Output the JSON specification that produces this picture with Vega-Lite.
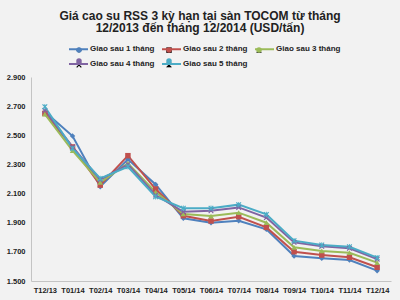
{
  "$schema": "https://vega.github.io/schema/vega-lite/v6.json",
  "width": 360,
  "height": 204,
  "autosize": "none",
  "padding": {"left": 31, "top": 77, "right": 9, "bottom": 19},
  "background": "#f2f2f2",
  "config": {
    "view": {"stroke": null},
    "font": "Liberation Sans",
    "locale": {"number": {"decimal": ",", "thousands": ".", "grouping": [3], "currency": ["", ""]}}
  },
  "title": {
    "text": ["Giá cao su RSS 3 kỳ hạn tại sàn TOCOM từ tháng", "12/2013 đến tháng 12/2014 (USD/tấn)"],
    "font": "Liberation Sans",
    "fontSize": 12,
    "fontWeight": "bold",
    "color": "#222222",
    "anchor": "middle",
    "dx": -11,
    "lineHeight": 12,
    "offset": 4
  },
  "data": {
    "values": [
      {"thang": "T12/13", "ky": "Giao sau 1 tháng", "gia": 2661},
      {"thang": "T01/14", "ky": "Giao sau 1 tháng", "gia": 2495},
      {"thang": "T02/14", "ky": "Giao sau 1 tháng", "gia": 2147},
      {"thang": "T03/14", "ky": "Giao sau 1 tháng", "gia": 2335},
      {"thang": "T04/14", "ky": "Giao sau 1 tháng", "gia": 2163},
      {"thang": "T05/14", "ky": "Giao sau 1 tháng", "gia": 1930},
      {"thang": "T06/14", "ky": "Giao sau 1 tháng", "gia": 1900},
      {"thang": "T07/14", "ky": "Giao sau 1 tháng", "gia": 1914},
      {"thang": "T08/14", "ky": "Giao sau 1 tháng", "gia": 1855},
      {"thang": "T09/14", "ky": "Giao sau 1 tháng", "gia": 1671},
      {"thang": "T10/14", "ky": "Giao sau 1 tháng", "gia": 1656},
      {"thang": "T11/14", "ky": "Giao sau 1 tháng", "gia": 1644},
      {"thang": "T12/14", "ky": "Giao sau 1 tháng", "gia": 1571},
      {"thang": "T12/13", "ky": "Giao sau 2 tháng", "gia": 2650},
      {"thang": "T01/14", "ky": "Giao sau 2 tháng", "gia": 2420},
      {"thang": "T02/14", "ky": "Giao sau 2 tháng", "gia": 2158},
      {"thang": "T03/14", "ky": "Giao sau 2 tháng", "gia": 2360},
      {"thang": "T04/14", "ky": "Giao sau 2 tháng", "gia": 2131},
      {"thang": "T05/14", "ky": "Giao sau 2 tháng", "gia": 1948},
      {"thang": "T06/14", "ky": "Giao sau 2 tháng", "gia": 1912},
      {"thang": "T07/14", "ky": "Giao sau 2 tháng", "gia": 1941},
      {"thang": "T08/14", "ky": "Giao sau 2 tháng", "gia": 1868},
      {"thang": "T09/14", "ky": "Giao sau 2 tháng", "gia": 1701},
      {"thang": "T10/14", "ky": "Giao sau 2 tháng", "gia": 1678},
      {"thang": "T11/14", "ky": "Giao sau 2 tháng", "gia": 1663},
      {"thang": "T12/14", "ky": "Giao sau 2 tháng", "gia": 1594},
      {"thang": "T12/13", "ky": "Giao sau 3 tháng", "gia": 2645},
      {"thang": "T01/14", "ky": "Giao sau 3 tháng", "gia": 2394},
      {"thang": "T02/14", "ky": "Giao sau 3 tháng", "gia": 2177},
      {"thang": "T03/14", "ky": "Giao sau 3 tháng", "gia": 2307},
      {"thang": "T04/14", "ky": "Giao sau 3 tháng", "gia": 2110},
      {"thang": "T05/14", "ky": "Giao sau 3 tháng", "gia": 1960},
      {"thang": "T06/14", "ky": "Giao sau 3 tháng", "gia": 1946},
      {"thang": "T07/14", "ky": "Giao sau 3 tháng", "gia": 1969},
      {"thang": "T08/14", "ky": "Giao sau 3 tháng", "gia": 1900},
      {"thang": "T09/14", "ky": "Giao sau 3 tháng", "gia": 1731},
      {"thang": "T10/14", "ky": "Giao sau 3 tháng", "gia": 1706},
      {"thang": "T11/14", "ky": "Giao sau 3 tháng", "gia": 1694},
      {"thang": "T12/14", "ky": "Giao sau 3 tháng", "gia": 1626},
      {"thang": "T12/13", "ky": "Giao sau 4 tháng", "gia": 2670},
      {"thang": "T01/14", "ky": "Giao sau 4 tháng", "gia": 2420},
      {"thang": "T02/14", "ky": "Giao sau 4 tháng", "gia": 2195},
      {"thang": "T03/14", "ky": "Giao sau 4 tháng", "gia": 2300},
      {"thang": "T04/14", "ky": "Giao sau 4 tháng", "gia": 2090},
      {"thang": "T05/14", "ky": "Giao sau 4 tháng", "gia": 1975},
      {"thang": "T06/14", "ky": "Giao sau 4 tháng", "gia": 1982},
      {"thang": "T07/14", "ky": "Giao sau 4 tháng", "gia": 2005},
      {"thang": "T08/14", "ky": "Giao sau 4 tháng", "gia": 1935},
      {"thang": "T09/14", "ky": "Giao sau 4 tháng", "gia": 1765},
      {"thang": "T10/14", "ky": "Giao sau 4 tháng", "gia": 1738},
      {"thang": "T11/14", "ky": "Giao sau 4 tháng", "gia": 1725},
      {"thang": "T12/14", "ky": "Giao sau 4 tháng", "gia": 1650},
      {"thang": "T12/13", "ky": "Giao sau 5 tháng", "gia": 2696},
      {"thang": "T01/14", "ky": "Giao sau 5 tháng", "gia": 2410},
      {"thang": "T02/14", "ky": "Giao sau 5 tháng", "gia": 2204},
      {"thang": "T03/14", "ky": "Giao sau 5 tháng", "gia": 2284},
      {"thang": "T04/14", "ky": "Giao sau 5 tháng", "gia": 2078},
      {"thang": "T05/14", "ky": "Giao sau 5 tháng", "gia": 1999},
      {"thang": "T06/14", "ky": "Giao sau 5 tháng", "gia": 1999},
      {"thang": "T07/14", "ky": "Giao sau 5 tháng", "gia": 2024},
      {"thang": "T08/14", "ky": "Giao sau 5 tháng", "gia": 1957},
      {"thang": "T09/14", "ky": "Giao sau 5 tháng", "gia": 1777},
      {"thang": "T10/14", "ky": "Giao sau 5 tháng", "gia": 1747},
      {"thang": "T11/14", "ky": "Giao sau 5 tháng", "gia": 1735},
      {"thang": "T12/14", "ky": "Giao sau 5 tháng", "gia": 1660}
    ]
  },
  "encoding": {
    "x": {
      "field": "thang", "type": "ordinal", "sort": null,
      "scale": {"type": "point", "padding": 0.5},
      "axis": {"title": null, "labelAngle": 0, "labelFont": "Liberation Sans", "labelFontSize": 7.5, "labelFontWeight": "bold", "labelColor": "#222222", "ticks": false, "domainColor": "#c4c4c4", "labelPadding": 5}
    },
    "y": {
      "field": "gia", "type": "quantitative",
      "scale": {"domain": [1500, 2900], "nice": false, "zero": false},
      "axis": {"title": null, "values": [1500, 1700, 1900, 2100, 2300, 2500, 2700, 2900], "format": ",d", "grid": false, "ticks": false, "labelFont": "Liberation Sans", "labelFontSize": 7.5, "labelFontWeight": "bold", "labelColor": "#222222", "domainColor": "#c4c4c4", "labelPadding": 6}
    }
  },
  "layer": [
    {
      "mark": {"type": "line", "strokeWidth": 2},
      "encoding": {
        "color": {
          "field": "ky", "type": "nominal",
          "scale": {"domain": ["Giao sau 1 tháng", "Giao sau 2 tháng", "Giao sau 3 tháng", "Giao sau 4 tháng", "Giao sau 5 tháng"], "range": ["#4F81BD", "#C0504D", "#9BBB59", "#8064A2", "#4BACC6"]},
          "legend": {"orient": "none", "legendX": 37, "legendY": -38.5, "direction": "horizontal", "columns": 3, "title": null, "symbolType": "stroke", "symbolSize": 361, "symbolStrokeWidth": 2, "labelFont": "Liberation Sans", "labelFontSize": 8, "labelFontWeight": "bold", "labelColor": "#222222", "columnPadding": 3, "rowPadding": -5, "labelOffset": 1}
        }
      }
    },
    {
      "mark": {"type": "point", "filled": true, "size": 30, "opacity": 1},
      "encoding": {
        "color": {
          "field": "ky", "type": "nominal",
          "legend": {"orient": "none", "legendX": 37, "legendY": -31, "direction": "horizontal", "columns": 3, "title": null, "symbolSize": 30, "labelFont": "Liberation Sans", "labelFontSize": 8, "labelFontWeight": "bold", "labelOpacity": 0, "columnPadding": 3, "rowPadding": 3, "symbolOffset": 7, "labelOffset": 7}
        },
        "shape": {
          "field": "ky", "type": "nominal",
          "scale": {"domain": ["Giao sau 1 tháng", "Giao sau 2 tháng", "Giao sau 3 tháng", "Giao sau 4 tháng", "Giao sau 5 tháng"], "range": ["diamond", "square", "triangle-up", "M-1,-0.7L-0.7,-1L0,-0.3L0.7,-1L1,-0.7L0.3,0L1,0.7L0.7,1L0,0.3L-0.7,1L-1,0.7L-0.3,0Z", "M-1,-0.7L-0.7,-1L0,-0.3L0.7,-1L1,-0.7L0.3,0L1,0.7L0.7,1L0,0.3L-0.7,1L-1,0.7L-0.3,0ZM-0.15,-1L0.15,-1L0.15,1L-0.15,1Z"]},
          "legend": {"orient": "none", "legendX": 37, "legendY": -31, "direction": "horizontal", "columns": 3, "title": null, "symbolSize": 30, "labelFont": "Liberation Sans", "labelFontSize": 8, "labelFontWeight": "bold", "labelOpacity": 0, "columnPadding": 3, "rowPadding": 3, "symbolOffset": 7, "labelOffset": 7}
        }
      }
    }
  ],
  "resolve": {"legend": {"color": "independent"}}
}
